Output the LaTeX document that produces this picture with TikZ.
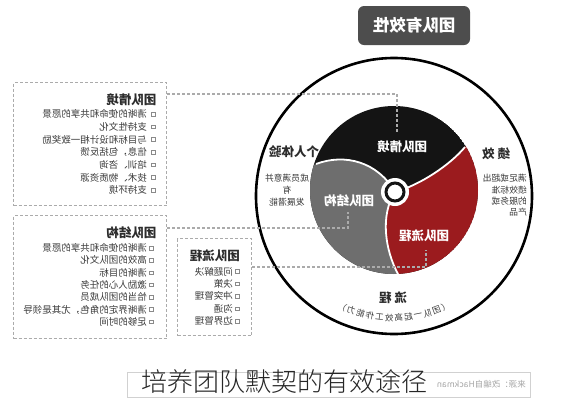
\documentclass[tikz,border=0pt]{standalone}
\usepackage{fontspec}
\setmainfont{Noto Sans CJK SC}
\newfontfamily\capfont{Noto Sans CJK SC Light}
\definecolor{segblack}{HTML}{141414}
\definecolor{seggray}{HTML}{6E6E6E}
\definecolor{segred}{HTML}{9B1B1E}
\definecolor{titlegray}{HTML}{4D4D4D}
\definecolor{txtdark}{HTML}{2C2C2C}
\definecolor{txtgray}{HTML}{3A3A3A}
\definecolor{dashgray}{HTML}{ABABAB}
\definecolor{bulgray}{HTML}{8A8A8A}
\begin{document}
\begin{tikzpicture}[x=1pt,y=-1pt,
  mir/.style={xscale=-1},
  itm/.style={mir,anchor=west,inner sep=0pt,font=\fontsize{9.5}{11}\selectfont,text=txtgray},
  ttl/.style={mir,anchor=west,inner sep=0pt,font=\fontsize{12.5}{14}\selectfont\bfseries,text=txtdark},
  bul/.style={draw=bulgray,line width=0.6pt,minimum size=3.6pt,inner sep=0pt},
  dline/.style={draw=dashgray,line width=1.1pt,dash pattern=on 3pt off 2pt},
  dbox/.style={dline,anchor=north west,inner sep=0pt},
  seglab/.style={mir,inner sep=0pt,text=white,font=\fontsize{12.5}{14}\selectfont\bfseries},
  biglab/.style={mir,inner sep=0pt,text=txtdark,font=\fontsize{12.5}{14}\selectfont\bfseries},
  sublab/.style={mir,inner sep=0pt,text=txtgray,font=\fontsize{8.8}{10}\selectfont}
]
\useasboundingbox (0,0) rectangle (571,400);

% ---- title box
\node[mir,fill=titlegray,rounded corners=6pt,minimum width=112pt,minimum height=39pt,inner sep=0pt,
      text=white,font=\fontsize{16.5}{18}\selectfont\bfseries] (title) at (414,25.5) {团队有效性};

% ---- dashed boxes
\node[dbox,minimum width=153pt,minimum height=123pt] (box1) at (13,82) {};
\node[dbox,minimum width=153pt,minimum height=123pt] (box2) at (13,215) {};
\node[dbox,minimum width=74pt,minimum height=97pt] (box3) at (177,238) {};

\node[ttl] (t1) at (156.5,100) {团队情境};
\foreach \txt [count=\i from 0] in {清晰的使命和共享的愿景,支持性文化,与目标和设计相一致奖励,信息，包括反馈,培训、咨询,技术、物质资源,支持环境}{
  \node[itm] (a\i) at (147,{114+12.7*\i}) {\txt};
  \node[bul] (ab\i) at (153.5,{114+12.7*\i}) {};
}
\node[ttl] (t2) at (156.5,233) {团队结构};
\foreach \txt [count=\i from 0] in {清晰的使命和共享的愿景,高效的团队文化,清晰的目标,激励人心的任务,恰当的团队成员,清晰界定的角色，尤其是领导,足够的时间}{
  \node[itm] (b\i) at (147,{248+12.3*\i}) {\txt};
  \node[bul] (bb\i) at (151.5,{248+12.3*\i}) {};
}
\node[ttl] (t3) at (240,256) {团队流程};
\foreach \txt [count=\i from 0] in {问题解决,决策,冲突管理,沟通,边界管理}{
  \node[itm] (c\i) at (233,{271.5+12.4*\i}) {\txt};
  \node[bul] (cb\i) at (237.5,{271.5+12.4*\i}) {};
}

% ---- big circle
\coordinate (C) at (394,196);
\draw[black,line width=2.6pt] (C) circle (138);

% ---- inner tri-colour disc
\coordinate (D) at (394,190);
\coordinate (O) at (395,192);
\coordinate (P1) at (316,164);
\coordinate (P2) at (465,147);
\coordinate (P3) at (398,274);
\begin{scope}
  \clip (D) circle (84);
  \fill[segblack] (D) circle (84);
  \fill[seggray] (287,175) -- (P1) .. controls (345,153) and (378,162) .. (O)
     .. controls (380,215) and (385,250) .. (P3) -- (411,298) -- (280,300) -- cycle;
  \fill[segred] (O) .. controls (420,185) and (450,165) .. (P2) -- (480,129) -- (500,129)
     -- (500,300) -- (411,298) -- (P3) .. controls (385,250) and (380,215) .. (O) -- cycle;
  \draw[white,line width=1.8pt] (P1) .. controls (345,153) and (378,162) .. (O);
  \draw[white,line width=1.8pt] (O) .. controls (420,185) and (450,165) .. (P2);
  \draw[white,line width=1.8pt] (O) .. controls (380,215) and (385,250) .. (P3);
\end{scope}
\fill[white] (O) circle (14);
\draw[segblack,line width=3pt] (O) circle (9);

\node[seglab] (lab1) at (402,147) {团队情境};
\node[seglab] (lab2) at (349,201) {团队结构};
\node[seglab] (lab3) at (424,236) {团队流程};

% ---- connectors
\coordinate (k1) at (397,94);  \coordinate (e1) at (397,132);
\coordinate (k2) at (348,228); \coordinate (e2) at (348,212);
\coordinate (k3) at (426,267); \coordinate (e3) at (426,250);
\draw[dline] (box1.east |- k1) -- (k1) -- (e1);
\draw[dline] (box2.east |- k2) -- (k2) -- (e2);
\draw[dline] (box3.east |- k3) -- (k3) -- (e3);

% ---- outer labels
\node[biglab] (pers) at (294,152) {个人体验};
\node[sublab] (p1) at (287,178) {成员满意并};
\node[sublab] (p2) at (287,190) {有};
\node[sublab] (p3) at (287,202) {发展潜能};

\node[biglab] (perf) at (496,154) {绩\hspace{3pt}效};
\node[sublab,anchor=west] (q1) at (527,178) {满足或超出};
\node[sublab,anchor=west] (q2) at (527,190) {绩效标准};
\node[sublab,anchor=west] (q3) at (527,201) {的服务或};
\node[sublab,anchor=west] (q4) at (527,212) {产品};

\node[biglab] (proc) at (393,298) {流\hspace{3pt}程};
\foreach \c [count=\j from 0] in {）,力,能,作,工,效,高,起,一,队,团,（}{
  \pgfmathsetmacro\ang{-25+50/11*\j}
  \node[rotate=\ang,xscale=-1,inner sep=0pt,text=txtgray,font=\fontsize{8.5}{9}\selectfont] (arc\j)
     at ({394+122*sin(\ang)},{196+122*cos(\ang)}) {\c};
}

% ---- source box and caption
\node[draw=black!18,line width=0.8pt,minimum width=403pt,minimum height=25pt,anchor=north west,inner sep=0pt] (src) at (127,372) {};
\node[mir,anchor=west,inner sep=0pt,text=black!35,font=\fontsize{8.5}{9}\selectfont] (srct) at (526,384.5) {来源：改编自Hackman};
\node[anchor=west,inner sep=0pt,text=black!85,font=\capfont\fontsize{26}{28}\selectfont] (cap) at (141,382) {培养团队默契的有效途径};
\end{tikzpicture}
\end{document}
